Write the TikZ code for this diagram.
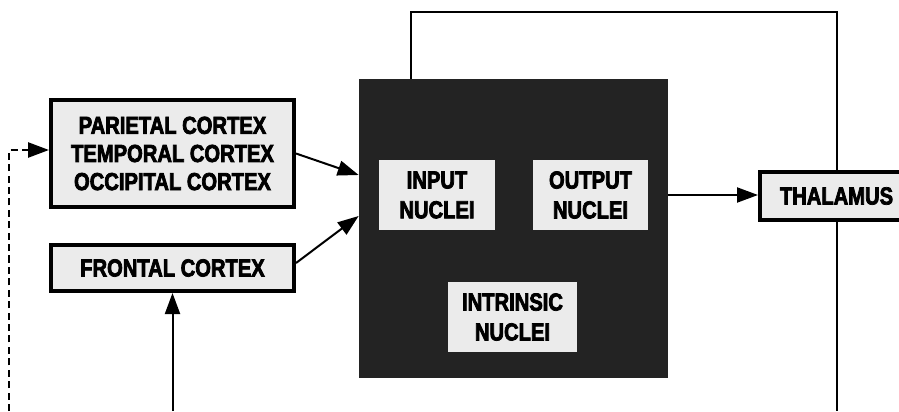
\documentclass[tikz,border=0pt]{standalone}
\usepackage{fontspec}
\setmainfont{Liberation Sans}
\newfontfamily\fontBoite[FakeBold=3,FakeStretch=0.82]{Liberation Sans Bold}
\usetikzlibrary{arrows.meta}
\usetikzlibrary{positioning}
\definecolor{colorBox}{HTML}{EBEBEB}
\definecolor{colorDark}{HTML}{232323}
\def\colorBox{colorBox}
\def\colorDark{colorDark}

\begin{document}
\begin{tikzpicture}[
  cortexbox/.style={draw=black, line width=0.08cm, fill=\colorBox,
    inner sep=0pt, align=center,
    font=\fontBoite\fontsize{14}{16}\selectfont},
  nucleusbox/.style={fill=\colorBox, inner sep=0pt, align=center,
    minimum height=1.40cm,
    font=\fontBoite\fontsize{14}{17}\selectfont},
  fleche/.style={line width=0.04cm, -{Triangle[length=0.42cm,width=0.30cm]}},
  ligne/.style={line width=0.04cm}
  ]
\useasboundingbox (0,0) rectangle (17.98,8.22);

% La boite noire
\node[fill=\colorDark, minimum width=6.18cm, minimum height=5.98cm,
  inner sep=0pt] (ganglia) at (10.27,3.65) {};

% Les noyaux
\node[nucleusbox, minimum width=2.32cm] (entree) at (8.74,4.32) {INPUT\\NUCLEI};
\node[nucleusbox, minimum width=2.30cm] (sortie) at (11.81,4.32) {OUTPUT\\NUCLEI};
\node[nucleusbox, minimum width=2.58cm] (intrinseque) at (10.25,1.88) {INTRINSIC\\NUCLEI};

% Les cortex et le thalamus
\node[cortexbox, minimum width=4.86cm, minimum height=2.14cm] (parietal)
  at (3.45,5.15) {PARIETAL CORTEX\\TEMPORAL CORTEX\\OCCIPITAL CORTEX};
\node[cortexbox, minimum width=4.86cm, minimum height=0.92cm] (frontal)
  at (3.45,2.86) {FRONTAL CORTEX};
\node[cortexbox, minimum width=3.06cm, minimum height=0.96cm] (thalamus)
  at (16.73,4.30) {THALAMUS};

% Bouts libres
\coordinate (haut) at (8.22,7.98);
\coordinate (bas) at (0,0);
\coordinate (retour) at (0.18,0);

% Fleches vers la boite
\draw[fleche] (parietal.east) -- ([yshift=1.07cm]ganglia.west);
\draw[fleche] ([yshift=0.1cm]frontal.east) -- ([yshift=0.25cm]ganglia.west);
\draw[fleche] (sortie.east -| ganglia.east) -- (sortie.east -| thalamus.west);

% La boucle du haut
\draw[ligne] (ganglia.north -| haut) -- (haut) -| (thalamus.north);
\draw[ligne] (thalamus.south) -- (thalamus.south |- bas);

% Retours du bas
\draw[fleche] (frontal.south |- bas) -- (frontal.south);
\draw[fleche, line width=0.05cm, dash pattern=on 4pt off 2.5pt]
  (retour) |- ([yshift=0.07cm]parietal.west);

\end{tikzpicture}
\end{document}
